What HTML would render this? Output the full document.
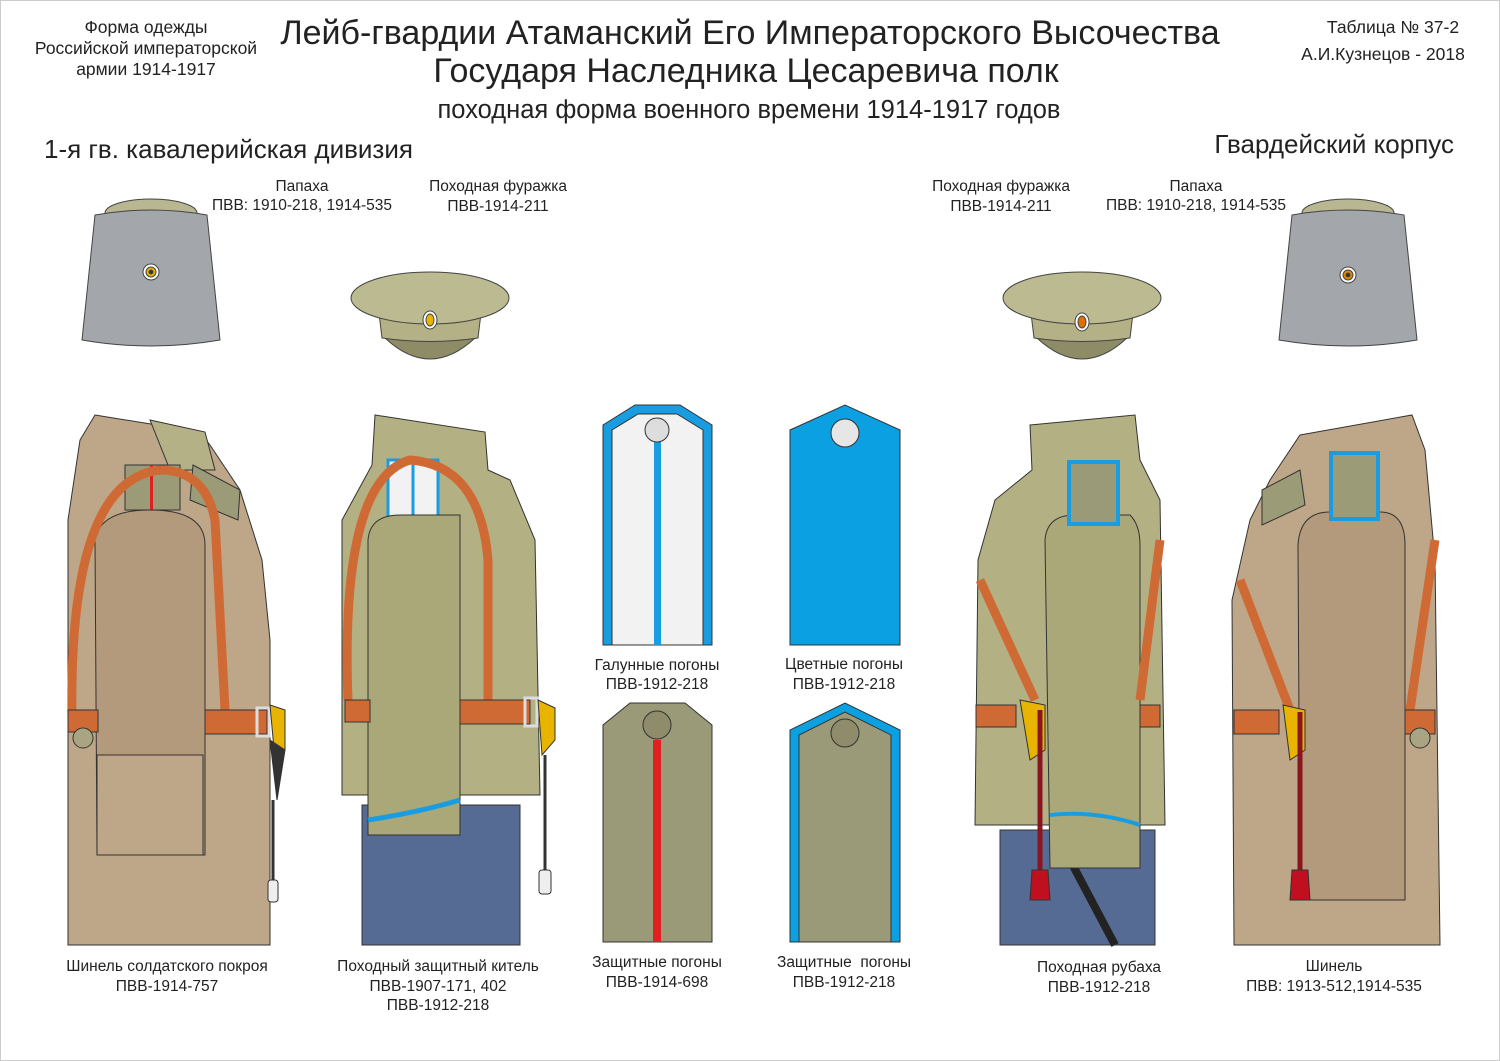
<!DOCTYPE html>
<html><head><meta charset="utf-8"><style>
html,body{margin:0;padding:0;background:#fff}
svg{display:block}
text{font-family:"Liberation Sans","DejaVu Sans",sans-serif;fill:#222}
</style></head><body>
<svg width="1500" height="1061" viewBox="0 0 1500 1061" xmlns="http://www.w3.org/2000/svg">
<rect x="0.5" y="0.5" width="1499" height="1060" fill="#fff" stroke="#ccc"/>
<g text-anchor="middle">
<text x="146" y="33" font-size="17.5">Форма одежды</text>
<text x="146" y="54" font-size="17.5">Российской императорской</text>
<text x="146" y="75" font-size="17.5">армии  1914-1917</text>
<text x="750" y="44" font-size="34">Лейб-гвардии Атаманский Его Императорского Высочества</text>
<text x="746" y="82" font-size="34">Государя Наследника Цесаревича полк</text>
<text x="749" y="118" font-size="25.5">походная форма военного времени 1914-1917 годов</text>
<text x="1393" y="33" font-size="17.5">Таблица № 37-2</text>
<text x="1383" y="60" font-size="17.5">А.И.Кузнецов - 2018</text>
<text x="302" y="191" font-size="15.5">Папаха</text>
<text x="302" y="210" font-size="15.5">ПВВ: 1910-218, 1914-535</text>
<text x="498" y="191" font-size="15.5">Походная фуражка</text>
<text x="498" y="211" font-size="15.5">ПВВ-1914-211</text>
<text x="1001" y="191" font-size="15.5">Походная фуражка</text>
<text x="1001" y="211" font-size="15.5">ПВВ-1914-211</text>
<text x="1196" y="191" font-size="15.5">Папаха</text>
<text x="1196" y="210" font-size="15.5">ПВВ: 1910-218, 1914-535</text>
<text x="167" y="971" font-size="15.5">Шинель солдатского покроя</text>
<text x="167" y="991" font-size="15.5">ПВВ-1914-757</text>
<text x="438" y="971" font-size="15.5">Походный защитный китель</text>
<text x="438" y="991" font-size="15.5">ПВВ-1907-171, 402</text>
<text x="438" y="1010" font-size="15.5">ПВВ-1912-218</text>
<text x="657" y="670" font-size="15.5">Галунные погоны</text>
<text x="657" y="689" font-size="15.5">ПВВ-1912-218</text>
<text x="844" y="669" font-size="15.5">Цветные погоны</text>
<text x="844" y="689" font-size="15.5">ПВВ-1912-218</text>
<text x="657" y="967" font-size="15.5">Защитные погоны</text>
<text x="657" y="987" font-size="15.5">ПВВ-1914-698</text>
<text x="844" y="967" font-size="15.5" xml:space="preserve">Защитные  погоны</text>
<text x="844" y="987" font-size="15.5">ПВВ-1912-218</text>
<text x="1099" y="972" font-size="15.5">Походная рубаха</text>
<text x="1099" y="992" font-size="15.5">ПВВ-1912-218</text>
<text x="1334" y="971" font-size="15.5">Шинель</text>
<text x="1334" y="991" font-size="15.5">ПВВ: 1913-512,1914-535</text>
</g>
<text x="44" y="158" font-size="26">1-я гв. кавалерийская дивизия</text>
<text x="1454" y="153" font-size="26" text-anchor="end">Гвардейский корпус</text>

<g stroke="#444" stroke-width="1">
<ellipse cx="151" cy="213" rx="46" ry="14" fill="#b9b792"/>
<path d="M95,215 Q151,205 207,215 L220,340 Q151,352 82,340 Z" fill="#a3a6aa"/>
<circle cx="151" cy="272" r="8" fill="#fff"/><circle cx="151" cy="272" r="5" fill="#e8b400"/><circle cx="151" cy="272" r="2" fill="#333"/>
</g>
<g stroke="#444" stroke-width="1">
<ellipse cx="1348" cy="213" rx="46" ry="14" fill="#b9b792"/>
<path d="M1292,215 Q1348,205 1404,215 L1417,340 Q1348,352 1279,340 Z" fill="#a3a6aa"/>
<circle cx="1348" cy="275" r="8" fill="#fff"/><circle cx="1348" cy="275" r="5" fill="#e08a00"/><circle cx="1348" cy="275" r="2" fill="#333"/>
</g>

<g stroke="#444" stroke-width="1">
<path d="M385,338 Q430,380 475,338 Z" fill="#8d8c66"/>
<path d="M378,305 L482,305 L478,338 Q430,345 382,338 Z" fill="#b4b186"/>
<ellipse cx="430" cy="298" rx="79" ry="26" fill="#bcba90"/>
<ellipse cx="430" cy="320" rx="7" ry="9" fill="#fff"/><ellipse cx="430" cy="320" rx="4" ry="6" fill="#e8b400"/>
</g>
<g stroke="#444" stroke-width="1">
<path d="M1037,338 Q1082,380 1127,338 Z" fill="#8d8c66"/>
<path d="M1030,305 L1134,305 L1130,338 Q1082,345 1034,338 Z" fill="#b4b186"/>
<ellipse cx="1082" cy="298" rx="79" ry="26" fill="#bcba90"/>
<ellipse cx="1082" cy="322" rx="7" ry="9" fill="#fff"/><ellipse cx="1082" cy="322" rx="4" ry="6" fill="#e07000"/>
</g>

<g stroke="#333" stroke-width="1">
<path d="M95,415 L200,432 L210,445 L240,490 L262,560 L270,640 L270,945 L68,945 L68,520 L80,440 Z" fill="#bea688"/>
<path d="M150,420 L205,432 L215,470 L170,470 Z" fill="#b4b186"/>
<path d="M193,465 L240,490 L238,520 L190,500 Z" fill="#9c9b78"/>
<rect x="125" y="465" width="55" height="45" fill="#9c9b78"/>
<rect x="150" y="465" width="3" height="45" fill="#e02020" stroke="none"/>
<path d="M95,540 Q100,510 150,510 Q205,510 205,545 L205,855 L97,855 Z" fill="#b39a7c"/>
<rect x="97" y="755" width="106" height="100" fill="#bea688"/>
<path d="M72,720 Q68,480 160,470 Q205,470 215,520 L225,710" fill="none" stroke="#d06a35" stroke-width="9"/>
<rect x="68" y="710" width="30" height="22" fill="#d06a35"/>
<rect x="205" y="710" width="62" height="24" fill="#d06a35"/>
<circle cx="83" cy="738" r="10" fill="#a9a583"/>
<rect x="257" y="708" width="12" height="28" fill="none" stroke="#ddd" stroke-width="3"/>
<path d="M270,705 L285,710 L285,750 L275,760 Z" fill="#e8b400"/>
<path d="M270,740 L285,750 L277,800 Z" fill="#333"/>
<line x1="273" y1="800" x2="273" y2="880" stroke="#333" stroke-width="3"/>
<rect x="268" y="880" width="10" height="22" rx="3" fill="#eee"/>
</g>

<g stroke="#333" stroke-width="1">
<rect x="362" y="805" width="158" height="140" fill="#566b93"/>
<path d="M375,415 L485,432 L488,470 L510,480 L535,540 L540,795 L342,795 L342,520 L372,465 Z" fill="#b3b183"/>
<rect x="388" y="460" width="50" height="58" fill="#f2f2f2"/>
<rect x="388" y="460" width="50" height="58" fill="none" stroke="#1a9de0" stroke-width="3"/>
<line x1="413" y1="462" x2="413" y2="518" stroke="#1a9de0" stroke-width="3"/>
<path d="M368,540 Q370,515 400,515 L460,515 L460,835 L368,835 Z" fill="#aaa878"/>
<path d="M368,820 Q420,812 460,800" fill="none" stroke="#1a9de0" stroke-width="5"/>
<path d="M348,700 Q340,480 410,460 Q480,465 488,560 L488,700" fill="none" stroke="#d06a35" stroke-width="9"/>
<rect x="345" y="700" width="25" height="22" fill="#d06a35"/>
<rect x="460" y="700" width="70" height="24" fill="#d06a35"/>
<rect x="525" y="698" width="12" height="28" fill="none" stroke="#ddd" stroke-width="3"/>
<path d="M538,700 L555,708 L555,740 L542,755 Z" fill="#e8b400"/>
<line x1="545" y1="755" x2="545" y2="870" stroke="#333" stroke-width="3"/>
<rect x="539" y="870" width="12" height="24" rx="3" fill="#eee"/>
</g>

<g stroke="#333" stroke-width="1">
<path d="M603,645 L603,425 L635,405 L680,405 L712,425 L712,645 Z" fill="#1a9de0"/>
<path d="M612,645 L612,430 L638,414 L677,414 L703,430 L703,645 Z" fill="#f2f2f2"/>
<rect x="654" y="420" width="7" height="225" fill="#1a9de0" stroke="none"/>
<circle cx="657" cy="430" r="12" fill="#ddd"/>
<path d="M790,645 L790,430 L845,405 L900,430 L900,645 Z" fill="#0aa0e2"/>
<circle cx="845" cy="433" r="14" fill="#e6e6e6"/>
<path d="M603,942 L603,725 L630,703 L685,703 L712,725 L712,942 Z" fill="#9a9a78"/>
<rect x="653" y="740" width="8" height="202" fill="#e02020" stroke="none"/>
<circle cx="657" cy="725" r="14" fill="#8e8c6a"/>
<path d="M790,942 L790,730 L845,703 L900,730 L900,942 Z" fill="#0aa0e2"/>
<path d="M799,942 L799,735 L845,712 L891,735 L891,942 Z" fill="#9a9a78"/>
<circle cx="845" cy="733" r="14" fill="#8e8c6a"/>
</g>

<g stroke="#333" stroke-width="1">
<path d="M1000,830 L1155,830 L1155,945 L1000,945 Z" fill="#566b93"/>
<path d="M1070,860 L1115,945" stroke="#222" stroke-width="8"/>
<path d="M1030,425 L1135,415 L1140,460 L1160,500 L1165,825 L975,825 L978,560 L995,500 L1032,470 Z" fill="#b3b183"/>
<path d="M1045,540 Q1047,515 1075,515 L1130,515 Q1140,525 1140,545 L1140,868 L1050,868 Z" fill="#aaa878"/>
<path d="M1050,815 Q1095,810 1140,825" fill="none" stroke="#1a9de0" stroke-width="4"/>
<rect x="1069" y="462" width="49" height="62" fill="#9a9a78" stroke="#1a9de0" stroke-width="4"/>
<path d="M980,580 L1035,700 M1160,540 L1140,700" fill="none" stroke="#d06a35" stroke-width="9"/>
<rect x="976" y="705" width="40" height="22" fill="#d06a35"/>
<rect x="1140" y="705" width="20" height="22" fill="#d06a35"/>
<path d="M1020,700 L1045,705 L1045,750 L1030,760 Z" fill="#e8b400"/>
<line x1="1040" y1="710" x2="1040" y2="870" stroke="#8a1520" stroke-width="5"/>
<path d="M1032,870 L1048,870 L1050,900 L1030,900 Z" fill="#c01020"/>
</g>

<g stroke="#333" stroke-width="1">
<path d="M1300,435 L1412,415 L1425,450 L1435,560 L1440,945 L1234,945 L1232,600 L1250,520 L1270,480 Z" fill="#bea688"/>
<path d="M1262,490 L1300,470 L1305,505 L1262,525 Z" fill="#9c9b78"/>
<path d="M1298,545 Q1300,512 1330,512 L1380,512 Q1405,512 1405,545 L1405,900 L1300,900 Z" fill="#b39a7c"/>
<rect x="1331" y="453" width="47" height="66" fill="#9c9b78" stroke="#1a9de0" stroke-width="4"/>
<path d="M1240,580 L1290,710 M1435,540 L1410,710" fill="none" stroke="#d06a35" stroke-width="9"/>
<rect x="1234" y="710" width="45" height="24" fill="#d06a35"/>
<rect x="1405" y="710" width="30" height="24" fill="#d06a35"/>
<circle cx="1420" cy="738" r="10" fill="#a9a583"/>
<path d="M1283,705 L1305,710 L1305,750 L1290,760 Z" fill="#e8b400"/>
<line x1="1300" y1="712" x2="1300" y2="870" stroke="#8a1520" stroke-width="5"/>
<path d="M1292,870 L1308,870 L1310,900 L1290,900 Z" fill="#c01020"/>
</g>
</svg>
</body></html>
